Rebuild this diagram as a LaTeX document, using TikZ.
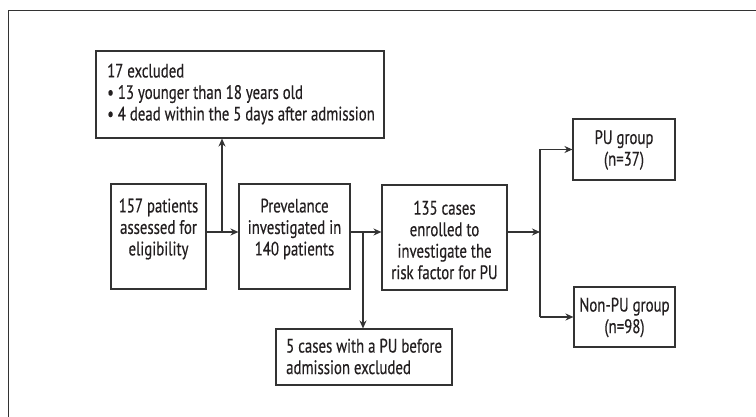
\documentclass[tikz,border=0pt]{standalone}
\usepackage{fontspec}
\setmainfont[FakeStretch=0.76,FakeBold=0.4]{PT Sans}
\usetikzlibrary{arrows.meta}
\definecolor{ink}{HTML}{231F20}
\definecolor{edge}{HTML}{333333}
\tikzset{
  box/.style={draw=edge, line width=1.1pt, inner sep=0pt},
  txt/.style={text=ink, font=\fontsize{19.5}{21.5}\selectfont, inner sep=0pt, align=center},
  txtl/.style={text=ink, font=\fontsize{19.5}{21.5}\selectfont, inner sep=0pt, align=left},
  arr/.style={draw=edge, line width=1.1pt, -{Stealth[length=8pt,width=7pt]}},
  ln/.style={draw=edge, line width=1.1pt},
}
\begin{document}
\begin{tikzpicture}[x=1pt,y=-1pt]
\useasboundingbox (0,0) rectangle (756,417);
% outer frame (top and left visible)
\draw[draw=edge, line width=0.9pt] (8,417) -- (8,10) -- (756,10);
% boxes
\node[box, minimum width=288, minimum height=87] (excl) at (240,94.5) {};
\node[txtl, anchor=west] (exclt) at (107,94) {17 excluded\\ \textbullet\ 13 younger than 18 years old\\ \textbullet\ 4 dead within the 5 days after admission};
\node[box, minimum width=95, minimum height=105] (p157) at (158.5,236.5) {};
\node[txt] (p157t) at (158.5,229) {157 patients\\assessed for\\eligibility};
\node[box, minimum width=111, minimum height=105] (prev) at (294.5,236.5) {};
\node[txt] (prevt) at (294.5,229) {Prevelance\\investigated in\\140 patients};
\node[box, minimum width=125, minimum height=105] (p135) at (444.5,237.5) {};
\node[txt] (p135t) at (444.5,240) {135 cases\\enrolled to\\investigate the\\risk factor for PU};
\node[box, minimum width=176, minimum height=56] (five) at (364,357) {};
\node[txtl, anchor=west] (fivet) at (286,356.5) {5 cases with a PU before\\admission excluded};
\node[box, minimum width=102, minimum height=61] (pu) at (624,149.5) {};
\node[txt] (put) at (624,150) {PU group\\(n=37)};
\node[box, minimum width=101, minimum height=60] (npu) at (624.5,317) {};
\node[txt] (nput) at (624.5,317.5) {Non-PU group\\(n=98)};
% junctions
\coordinate (ymain) at (0,232);
\coordinate (j1) at (222,232);
\coordinate (j2) at (363,232);
\coordinate (j3) at (540,232);
% connectors
\draw[arr] (p157.east |- ymain) -- (prev.west |- ymain);
\draw[arr] (j1) -- (j1 |- excl.south);
\draw[arr] (prev.east |- ymain) -- (p135.west |- ymain);
\draw[arr] (j2) -- (j2 |- five.north);
\draw[arr] (p135.east |- ymain) -- (j3);
\draw[ln] (j3 |- pu.west) -- (j3 |- npu.west);
\draw[arr] (j3 |- pu.west) -- (pu.west);
\draw[arr] (j3 |- npu.west) -- (npu.west);
\end{tikzpicture}
\end{document}
